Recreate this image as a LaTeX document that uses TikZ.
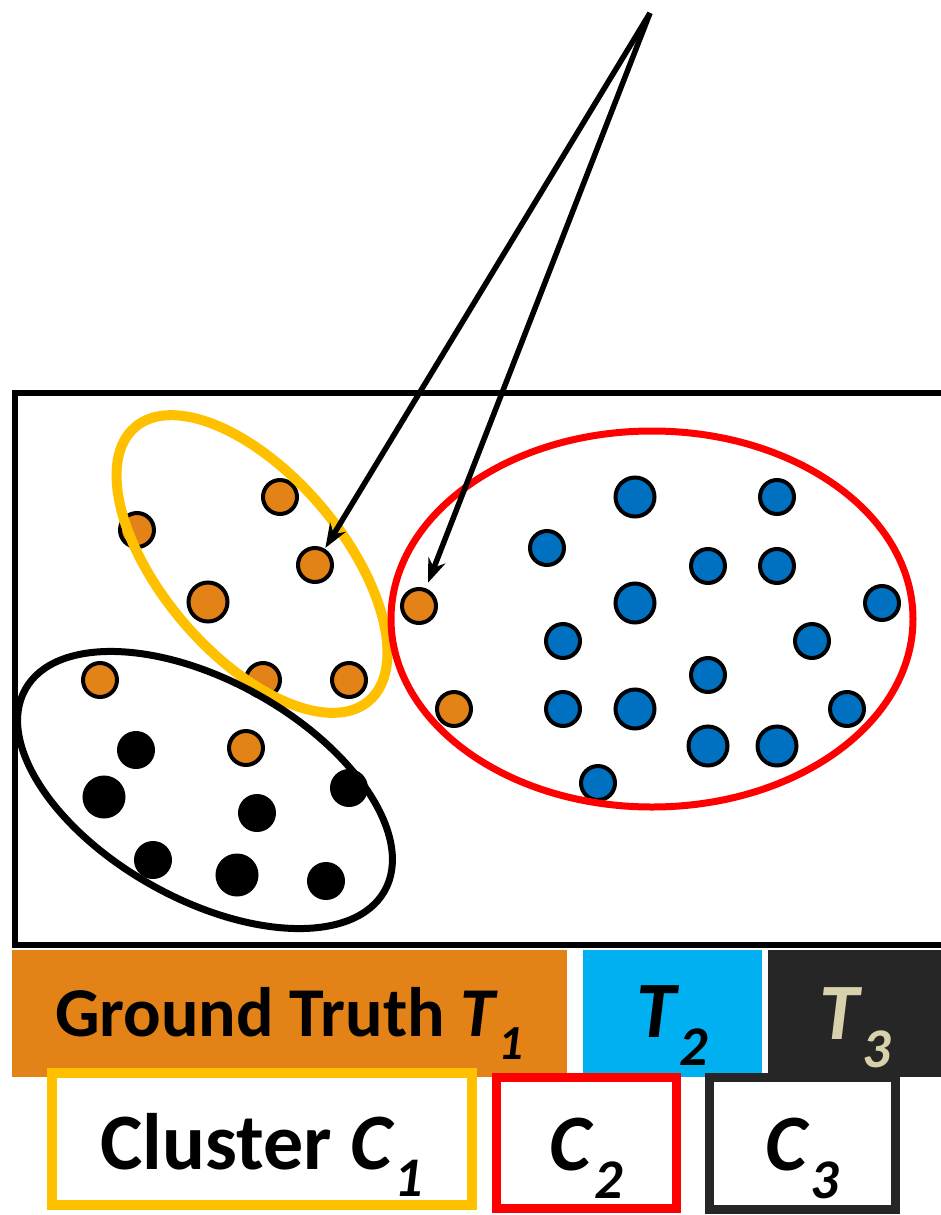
\documentclass[tikz,border=0pt]{standalone}
\usepackage{fontspec}
\setmainfont{Carlito}
\usetikzlibrary{arrows.meta}
\definecolor{dotorange}{RGB}{227,130,22}
\definecolor{dotblue}{RGB}{0,112,192}
\definecolor{clyellow}{RGB}{255,192,0}
\definecolor{clred}{RGB}{255,0,0}
\definecolor{bandblue}{RGB}{0,176,240}
\definecolor{banddark}{RGB}{38,38,38}
\definecolor{tanlabel}{RGB}{216,210,172}
\newcommand{\lowtext}[2]{\raisebox{-#1}[0pt][0pt]{#2}}
\tikzset{
  dotbase/.style={circle, draw=black, line width=4pt, inner sep=0pt, minimum size=34pt},
  odot/.style={dotbase, fill=dotorange},
  bdot/.style={dotbase, fill=dotblue},
  kdot/.style={dotbase, fill=black},
  bigdot/.style={minimum size=39pt},
  pointer/.style={draw=black, line width=5.5pt, arrows={-Stealth[length=24pt,width=18pt]}},
  band/.style={rectangle, inner sep=0pt, minimum height=127pt, font=\fontsize{70}{84}\selectfont\bfseries},
  bigtext/.style={font=\fontsize{80}{96}\selectfont\bfseries},
  cbox/.style={rectangle, line width=10pt, fill=white, inner sep=0pt, bigtext},
}
\begin{document}
\begin{tikzpicture}[x=1pt,y=1pt]
\useasboundingbox (0,0) rectangle (941,-1215);
\clip (0,0) rectangle (941,-1215);

% frame
\draw[line width=6pt] (15,-393) rectangle (960,-945);

% orange points
\node[odot] (o1) at (280,-497) {};
\node[odot] (o2) at (137,-530) {};
\node[odot] (o3) at (315,-565) {};
\node[odot,bigdot] (o4) at (208,-602) {};
\node[odot] (o5) at (100,-680) {};
\node[odot] (o6) at (263,-680) {};
\node[odot] (o7) at (349,-680) {};
\node[odot] (o8) at (246,-748) {};
\node[odot] (o9) at (419,-606) {};
\node[odot] (o10) at (454,-709) {};

% blue points
\node[bdot,bigdot] (b1) at (635,-497) {};
\node[bdot] (b2) at (777,-497) {};
\node[bdot] (b3) at (547,-548) {};
\node[bdot] (b4) at (708,-566) {};
\node[bdot] (b5) at (777,-566) {};
\node[bdot,bigdot] (b6) at (635,-603) {};
\node[bdot] (b7) at (882,-603) {};
\node[bdot] (b8) at (563,-641) {};
\node[bdot] (b9) at (812,-641) {};
\node[bdot] (b10) at (708,-675) {};
\node[bdot] (b11) at (563,-709) {};
\node[bdot,bigdot] (b12) at (635,-709) {};
\node[bdot] (b13) at (847,-709) {};
\node[bdot,bigdot] (b14) at (708,-746) {};
\node[bdot,bigdot] (b15) at (777,-746) {};
\node[bdot] (b16) at (598,-783) {};

% black points
\node[kdot] (k1) at (136,-750) {};
\node[kdot,bigdot] (k2) at (104,-797) {};
\node[kdot] (k3) at (349,-788) {};
\node[kdot] (k4) at (257,-813) {};
\node[kdot] (k5) at (153,-860) {};
\node[kdot,bigdot] (k6) at (237,-875) {};
\node[kdot] (k7) at (326,-881) {};

% cluster outlines
\draw[clyellow, line width=10pt, rotate around={-49.5:(252,-564)}] (252,-564) ellipse [x radius=180pt, y radius=90pt];
\draw[black, line width=7pt, rotate around={-29.3:(205,-790)}] (205,-790) ellipse [x radius=206pt, y radius=109pt];
\draw[clred, line width=7pt] (652,-619) ellipse [x radius=261pt, y radius=188pt];

% pointers
\coordinate (src) at (650,-13);
\draw[pointer, shorten >=1pt] (src) -- (o3);
\draw[pointer, shorten >=6pt] (src) -- (o9);

% ground-truth bands
\node[band, fill=dotorange, minimum width=555pt] (t1) at (289.5,-1013.5) {\lowtext{23pt}{Ground Truth \textit{T}\textsubscript{\textit{1}}}};
\node[band, bigtext, fill=bandblue, minimum width=179pt] (t2) at (672.5,-1013.5) {\lowtext{24pt}{\textit{T}\textsubscript{\textit{2}}}};
\node[band, bigtext, fill=banddark, text=tanlabel, minimum width=175pt] (t3) at (855.5,-1013.5) {\lowtext{26pt}{\textit{T}\textsubscript{\textit{3}}}};

% cluster boxes
\node[cbox, draw=clyellow, minimum width=420pt, minimum height=132pt] (c1) at (262,-1139) {\lowtext{30pt}{Cluster \textit{C}\textsubscript{\textit{1}}}};
\node[cbox, draw=clred, line width=9pt, minimum width=180pt, minimum height=131pt] (c2) at (586.5,-1143) {\lowtext{27pt}{\textit{C}\textsubscript{\textit{2}}}};
\node[cbox, draw=banddark, line width=9pt, minimum width=186pt, minimum height=132pt] (c3) at (802.5,-1143) {\lowtext{27pt}{\textit{C}\textsubscript{\textit{3}}}};
\end{tikzpicture}
\end{document}
